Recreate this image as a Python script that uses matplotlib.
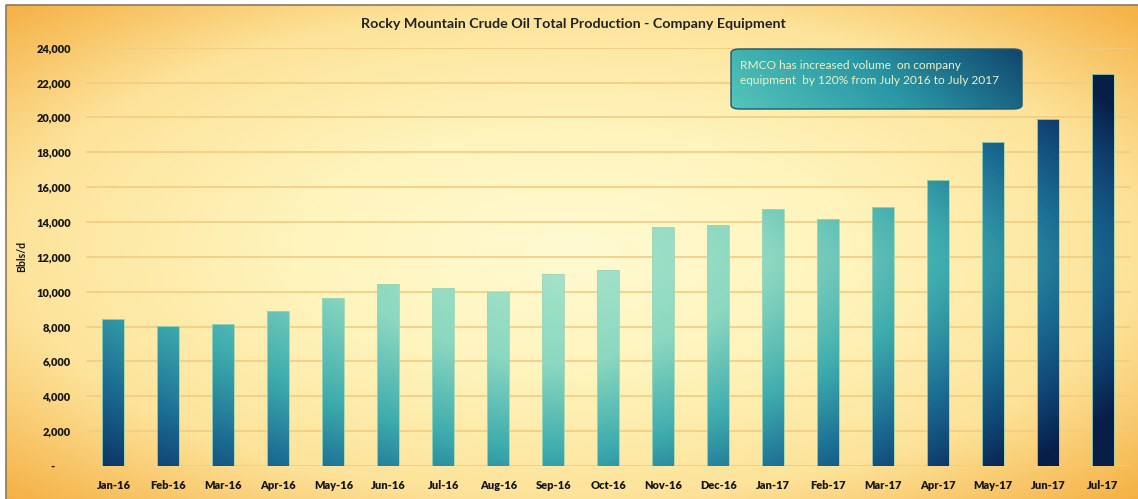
import numpy as np
import matplotlib
matplotlib.use("Agg")
import matplotlib.pyplot as plt
from matplotlib.colors import LinearSegmentedColormap
from matplotlib.patches import FancyBboxPatch
from matplotlib.ticker import FuncFormatter

plt.rcParams['font.family'] = ['Lato', 'DejaVu Sans']

# data (Bbls/d)
months = ["Jan-16", "Feb-16", "Mar-16", "Apr-16", "May-16", "Jun-16", "Jul-16",
          "Aug-16", "Sep-16", "Oct-16", "Nov-16", "Dec-16", "Jan-17", "Feb-17",
          "Mar-17", "Apr-17", "May-17", "Jun-17", "Jul-17"]
volume = [8440, 8040, 8150, 8880, 9640, 10440, 10230, 9970, 11000, 11270,
          13690, 13800, 14720, 14200, 14850, 16420, 18580, 19920, 22500]
y_ticks = list(range(0, 24001, 2000))

title = "Rocky Mountain Crude Oil Total Production - Company Equipment"
note = "RMCO has increased volume  on company\nequipment  by 120% from July 2016 to July 2017"

W, H = 1138, 499
fig = plt.figure(figsize=(W / 100, H / 100), dpi=100)
fig.patch.set_facecolor("white")

# background panel with a warm radial gradient
bg = fig.add_axes([0, 0, 1, 1], zorder=-10)
bg.set_xlim(0, 1)
bg.set_ylim(0, 1)
bg.axis("off")
gx, gy = np.meshgrid(np.linspace(0, 1, 600), np.linspace(0, 1, 300))
r = np.sqrt(((gx - 0.5) / 0.5) ** 2 + ((gy - 0.5) / 0.5) ** 2)
bg_cmap = LinearSegmentedColormap.from_list(
    "warm", [(0, "#fffad2"), (0.35, "#fff4bc"), (0.7, "#fde39a"), (1.0, "#f5b043")])
bg.imshow(bg_cmap(np.clip(r / 1.42, 0, 1)), extent=[6 / W, 1, 0, 1 - 5 / H],
          origin="lower", aspect="auto", zorder=0)
bg.plot([6 / W, 6 / W, 1], [0, 1 - 5 / H, 1 - 5 / H], color="#8a7a60", lw=1.2, zorder=1)

# main chart
ax = fig.add_axes([86 / W, 33 / H, 1044.5 / W, 418.3 / H])
ax.patch.set_alpha(0)
x = np.arange(len(months))
bars = ax.bar(x, volume, width=0.4, color="none", edgecolor="#9fd6b2", lw=0.6, zorder=3)
ax.set_xlim(-0.5, len(months) - 0.5)
ax.set_ylim(0, 24000)

# bar colour field: light in the middle, darker towards the edges
fx, fy = np.meshgrid(np.linspace(0, 1, 800), np.linspace(0, 1, 400))
sx = np.where(fx < 0.454, 0.766, 0.67)
dx = np.abs(fx - 0.454) / sx
dy = np.abs(fy - 0.493) / 0.837
t = np.clip((dx ** 1.5 + dy ** 1.5) ** (1 / 1.5), 0, 1)
bar_cmap = LinearSegmentedColormap.from_list(
    "bars", [(0, "#a8e4cc"), (0.3, "#8cd8c0"), (0.55, "#3eacae"),
             (0.75, "#1a6a92"), (0.9, "#0e3c6c"), (1.0, "#081e48")])
field = bar_cmap(t)
for b in bars:
    im = ax.imshow(field, extent=[-0.5, len(months) - 0.5, 0, 24000], origin="lower",
                   aspect="auto", zorder=2)
    im.set_clip_path(b)

ax.set_yticks(y_ticks)
ax.yaxis.set_major_formatter(FuncFormatter(lambda v, p: "-      " if v == 0 else f"{int(v):,}"))
ax.set_xticks(x)
ax.set_xticklabels(months)
ax.yaxis.grid(True, color="#f3cc80", lw=1.2, zorder=0)
ax.set_axisbelow(True)
for s in ax.spines.values():
    s.set_visible(False)
ax.tick_params(axis="x", length=0, pad=10, labelsize=7.9, colors="#161616")
ax.tick_params(axis="y", length=0, pad=11, labelsize=7.9, colors="#161616")
for lab in ax.get_xticklabels() + ax.get_yticklabels():
    lab.set_fontweight("heavy")
ax.set_ylabel("Bbls/d", fontsize=7.6, fontweight="bold", color="#161616")
ax.yaxis.set_label_coords(-0.0565, 0.5)

fig.text(573 / W, 1 - 24 / H, title, ha="center", va="center", fontsize=10.3,
         fontweight="bold", color="#222222")

# callout box with a teal-to-navy gradient, on its own layer above the grid
top = fig.add_axes([0, 0, 1, 1], zorder=10)
top.set_xlim(0, 1)
top.set_ylim(0, 1)
top.axis("off")
box = FancyBboxPatch((731 / W, 1 - 109 / H), 291 / W, 60 / H,
                     boxstyle="round,pad=0,rounding_size=0.008",
                     facecolor="none", edgecolor="#1b5870", lw=1.0, zorder=5)
top.add_patch(box)
bx, by = np.meshgrid(np.linspace(0, 1, 300), np.linspace(0, 1, 60))
box_cmap = LinearSegmentedColormap.from_list("box", ["#55c6b9", "#2a98a6", "#10466e"])
box_img = top.imshow(box_cmap(np.clip(0.8 * bx + 0.2 * by, 0, 1)),
                     extent=[731 / W, 1022 / W, 1 - 109 / H, 1 - 49 / H],
                     origin="lower", aspect="auto", zorder=4)
box_img.set_clip_path(box)
top.text(740 / W, 1 - 73 / H, note, ha="left", va="center", fontsize=8.6,
         color="#eef2c2", linespacing=1.45, zorder=6)

fig.savefig("out.png", dpi=100)
